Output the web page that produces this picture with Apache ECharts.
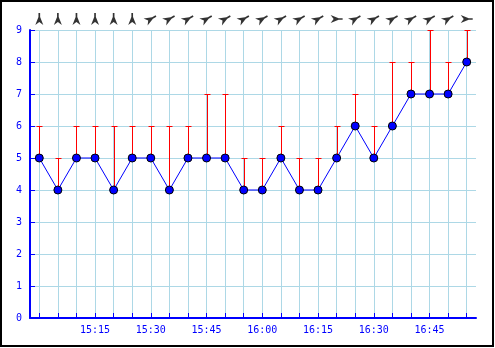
<!DOCTYPE html>
<html>
<head>
<meta charset="utf-8">
<script src="https://cdn.jsdelivr.net/npm/echarts@6/dist/echarts.min.js"></script>
<style>html,body{margin:0;padding:0;background:#fff}#c{width:495px;height:348px}</style>
</head>
<body>
<div id="c"></div>
<script>
var times = ['15:00','15:05','15:10','15:15','15:20','15:25','15:30','15:35','15:40','15:45','15:50','15:55',
             '16:00','16:05','16:10','16:15','16:20','16:25','16:30','16:35','16:40','16:45','16:50','16:55'];
var speed = [5,4,5,5,4,5,5,4,5,5,5,4,4,5,4,4,5,6,5,6,7,7,7,8];
var gust  = [6,5,6,6,6,6,6,6,6,7,7,5,5,6,5,5,6,7,6,8,8,9,8,9];
var direction = [0,0,0,0,0,0,60,60,60,60,60,60,60,60,60,60,90,60,60,60,60,60,60,90];
var yTicks = [0,9,1];

var BLUE = '#0000ff', GRID = '#add8e6';
var FONT = 'DejaVu Sans Mono';
var arrowPath = 'path://M2.8,0 L4.6,0 L4.6,4 L8,12 L3.7,9 L-0.6,12 L2.8,4 Z';

var chart = echarts.init(document.getElementById('c'), null, {renderer: 'canvas'});
chart.setOption({
  animation: false,
  backgroundColor: '#fff',
  graphic: [{type: 'rect', shape: {x: 1, y: 1, width: 492, height: 345}, style: {fill: 'none', stroke: '#000', lineWidth: 2}, z: 100}],
  grid: [
    {left: 30, right: 19, top: 30, bottom: 30},
    {left: 30, right: 19, top: 9, height: 20}
  ],
  xAxis: [{
    type: 'category', data: times, boundaryGap: true, gridIndex: 0,
    axisLine: {show: true, lineStyle: {color: BLUE, width: 2}},
    axisTick: {show: true, inside: true, length: 5, alignWithLabel: true, interval: 0, lineStyle: {color: BLUE, width: 1}},
    axisLabel: {color: BLUE, fontFamily: FONT, fontSize: 10, margin: 7,
      interval: function (i) { return i > 0 && i % 3 === 0; }},
    splitLine: {show: true, alignWithLabel: true, interval: 0, lineStyle: {color: GRID, width: 1}}
  }, {
    type: 'category', data: times, boundaryGap: true, gridIndex: 1, show: false
  }],
  yAxis: [{
    type: 'value', min: yTicks[0], max: yTicks[1], interval: yTicks[2], gridIndex: 0,
    axisLine: {show: true, lineStyle: {color: BLUE, width: 2}},
    axisTick: {show: true, inside: true, length: 5, lineStyle: {color: BLUE, width: 1}},
    axisLabel: {color: BLUE, fontFamily: FONT, fontSize: 10, margin: 8},
    splitLine: {show: true, lineStyle: {color: GRID, width: 1}}
  }, {
    type: 'value', min: 0, max: 1, gridIndex: 1, show: false
  }],
  series: [{
    type: 'custom', xAxisIndex: 0, yAxisIndex: 0, z: 2,
    data: speed.map(function (v, i) { return [i, v, gust[i]]; }),
    renderItem: function (params, api) {
      var lo = api.coord([api.value(0), api.value(1)]);
      var hi = api.coord([api.value(0), api.value(2)]);
      var x = Math.round(lo[0]) + 0.5;
      return {type: 'group', children: [
        {type: 'line', shape: {x1: x, y1: lo[1], x2: x, y2: hi[1]}, style: {stroke: '#ff0000', lineWidth: 1}},
        {type: 'line', shape: {x1: x - 3, y1: hi[1] + 0.5, x2: x + 3, y2: hi[1] + 0.5}, style: {stroke: '#ff0000', lineWidth: 1}}
      ]};
    }
  }, {
    type: 'line', xAxisIndex: 0, yAxisIndex: 0, z: 3, data: speed,
    symbol: 'circle', symbolSize: 8,
    lineStyle: {color: BLUE, width: 1},
    itemStyle: {color: BLUE, borderColor: '#000', borderWidth: 1}
  }, {
    type: 'scatter', xAxisIndex: 1, yAxisIndex: 1,
    data: direction.map(function (d, i) { return {value: [i, 0.5], symbolRotate: -d}; }),
    symbol: arrowPath, symbolSize: [8, 12],
    itemStyle: {color: '#000'}
  }]
});
</script>
</body>
</html>
